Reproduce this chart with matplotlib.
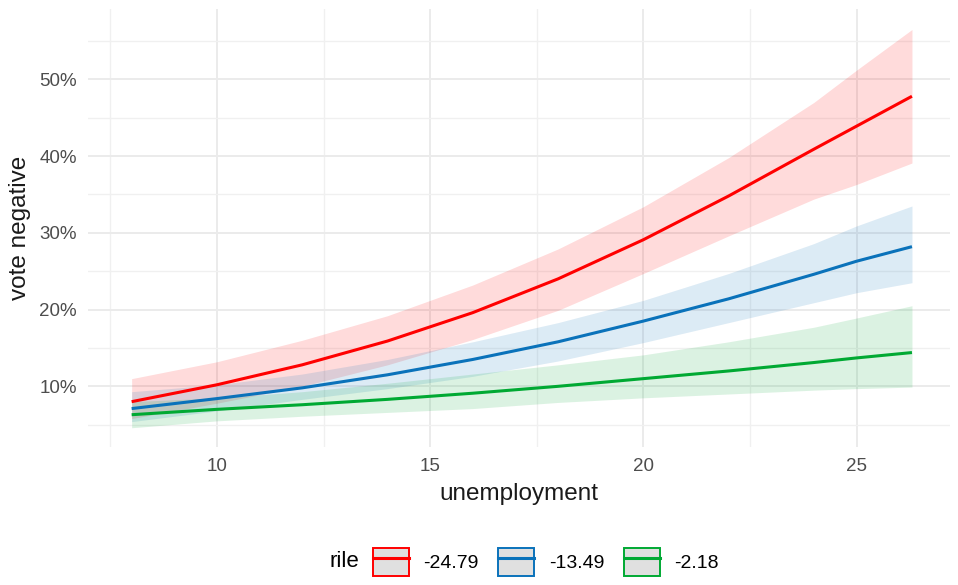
import numpy as np
import matplotlib
matplotlib.use('Agg')
from matplotlib import pyplot as plt
from matplotlib.patches import Rectangle
from matplotlib.lines import Line2D
from matplotlib.legend_handler import HandlerTuple
from matplotlib.offsetbox import HPacker
from matplotlib.ticker import FuncFormatter, MultipleLocator

plt.rcParams['font.family'] = ['Liberation Sans', 'DejaVu Sans']

unemployment = [8, 10, 12, 14, 16, 18, 20, 22, 24, 25, 26.3]

# predicted share voting negative (%), by rile level
red_fit = [8.0, 10.2, 12.8, 15.9, 19.6, 24.0, 29.1, 34.8, 40.9, 43.9, 47.8]
red_lo = [5.8, 7.8, 10.0, 12.8, 16.1, 19.9, 24.7, 29.6, 34.4, 36.3, 39.1]
red_hi = [11.0, 13.2, 16.0, 19.2, 23.2, 27.9, 33.4, 39.8, 47.0, 51.2, 56.5]

blue_fit = [7.1, 8.4, 9.8, 11.5, 13.5, 15.8, 18.5, 21.4, 24.6, 26.3, 28.2]
blue_lo = [5.4, 6.8, 8.3, 9.7, 11.3, 13.3, 15.7, 18.3, 20.9, 22.2, 23.5]
blue_hi = [9.3, 10.2, 11.6, 13.5, 15.8, 18.3, 21.2, 24.7, 28.6, 30.9, 33.5]

green_fit = [6.3, 7.0, 7.6, 8.3, 9.1, 10.0, 11.0, 12.0, 13.1, 13.7, 14.4]
green_lo = [4.6, 5.5, 6.1, 6.6, 7.1, 7.9, 8.5, 9.0, 9.5, 9.7, 9.9]
green_hi = [8.0, 8.5, 9.3, 10.4, 11.6, 12.8, 14.1, 15.8, 17.7, 18.9, 20.5]

rile_labels = ['-24.79', '-13.49', '-2.18']
colors = ['#FF0000', '#0A72BA', '#00A933']

series = [(red_fit, red_lo, red_hi), (blue_fit, blue_lo, blue_hi),
          (green_fit, green_lo, green_hi)]

fig = plt.figure(figsize=(9.58, 5.85), dpi=100)
ax = fig.add_axes([0.092, 0.236, 0.9, 0.749])

x = np.array(unemployment)
for (fit, lo, hi), c in zip(series, colors):
    ax.fill_between(x, np.array(lo) / 100, np.array(hi) / 100, color=c,
                    alpha=0.14, linewidth=0, zorder=2)
for (fit, lo, hi), c in zip(series, colors):
    ax.plot(x, np.array(fit) / 100, color=c, lw=2.2, zorder=3,
            solid_capstyle='butt', solid_joinstyle='round')

ax.set_xlim(6.98, 27.2)
ax.set_ylim(0.021, 0.592)
ax.xaxis.set_major_locator(MultipleLocator(5))
ax.xaxis.set_minor_locator(MultipleLocator(2.5))
ax.yaxis.set_major_locator(MultipleLocator(0.1))
ax.yaxis.set_minor_locator(MultipleLocator(0.05))
ax.yaxis.set_major_formatter(FuncFormatter(lambda v, p: '%d%%' % round(v * 100)))
ax.set_yticks([0.1, 0.2, 0.3, 0.4, 0.5])

ax.grid(which='major', color='#EBEBEB', lw=1.4, zorder=0)
ax.grid(which='minor', color='#F0F0F0', lw=1.0, zorder=0)
ax.set_axisbelow(True)
for s in ax.spines.values():
    s.set_visible(False)
ax.tick_params(which='both', length=0, labelsize=13.5, labelcolor='#4D4D4D',
               pad=8)

ax.set_xlabel('unemployment', fontsize=17.5, color='#1A1A1A', labelpad=6)
ax.set_ylabel('vote negative', fontsize=17.5, color='#1A1A1A', labelpad=6)

handles = []
for c in colors:
    box = Rectangle((0, 0), 1, 1, facecolor='#E0E0E0', edgecolor=c, lw=1.4)
    ln = Line2D([], [], color=c, lw=2.2)
    handles.append((box, ln))

leg = fig.legend(handles, rile_labels, loc='center', ncol=3,
                 bbox_to_anchor=(0.547, 0.04), frameon=False,
                 handler_map={tuple: HandlerTuple(ndivide=1, pad=0)},
                 fontsize=14, title='rile', title_fontsize=16,
                 handlelength=1.85, handleheight=1.85, handletextpad=0.75,
                 columnspacing=1.0, borderpad=0)
# put the title to the left of the keys, like ggplot does
title_box = leg._legend_title_box
handle_box = leg._legend_handle_box
leg._legend_box._children = [HPacker(pad=0, sep=10, align='center',
                                     children=[title_box, handle_box])]

fig.savefig('out.png', dpi=100, facecolor='w')
plt.close()
